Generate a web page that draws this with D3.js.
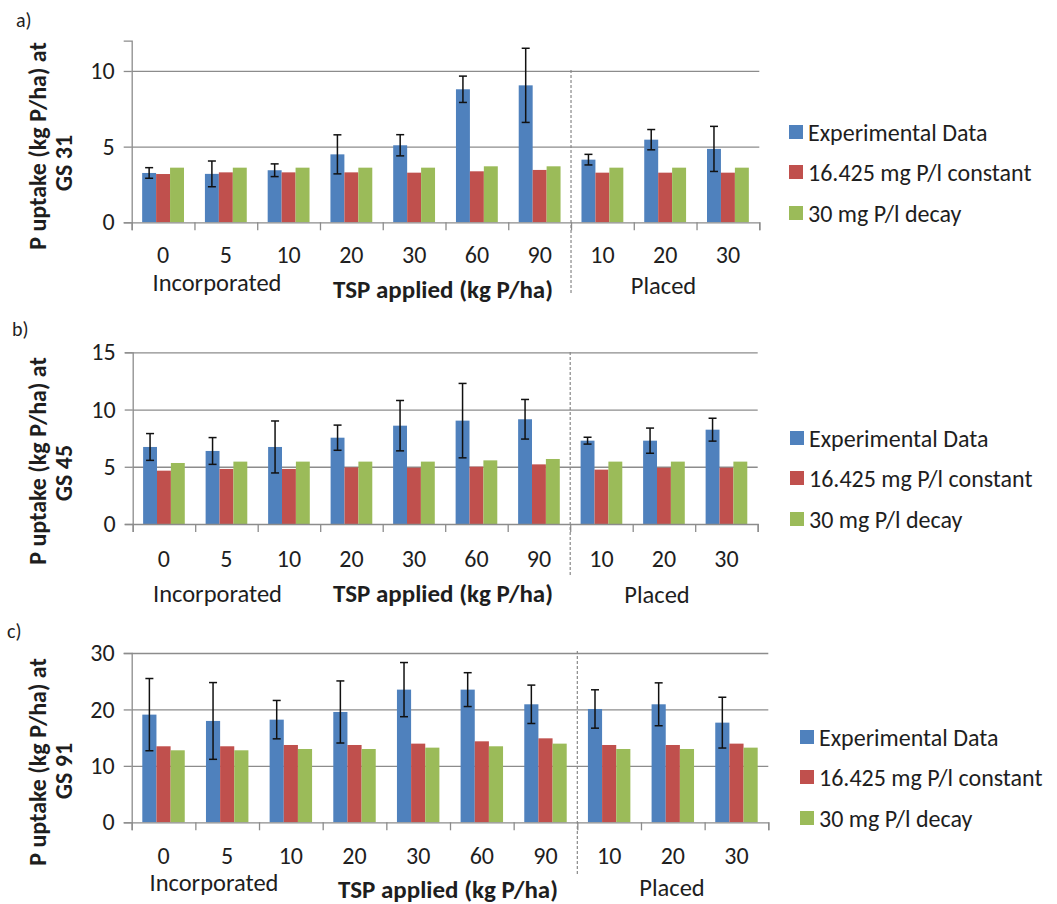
<!DOCTYPE html>
<html>
<head>
<meta charset="utf-8">
<script src="https://cdn.jsdelivr.net/npm/d3@7"></script>
<style>
  body { margin: 0; background: #fff; }
  text { font-family: Carlito, Lato, "Open Sans", sans-serif; fill: #1e1e1e; }
</style>
</head>
<body>
<svg id="chart" width="1057" height="904"></svg>
<script>
// TSP rates; the last three are the placed treatments
const categories = ["0", "5", "10", "20", "30", "60", "90", "10", "20", "30"];
const seriesNames = ["Experimental Data", "16.425 mg P/l constant", "30 mg P/l decay"];

// GS 31
const gs31Experimental = [3.26, 3.20, 3.44, 4.49, 5.09, 8.79, 9.05, 4.14, 5.46, 4.85];
const gs31ExperimentalErr = [0.35, 0.85, 0.42, 1.29, 0.70, 0.87, 2.45, 0.35, 0.67, 1.49];
const gs31Constant = [3.19, 3.30, 3.30, 3.30, 3.28, 3.37, 3.46, 3.28, 3.28, 3.28];
const gs31Decay = [3.61, 3.61, 3.61, 3.61, 3.61, 3.70, 3.70, 3.61, 3.61, 3.61];
const gs31Ticks = [0, 5, 10];

// GS 45
const gs45Experimental = [6.73, 6.38, 6.73, 7.54, 8.59, 9.03, 9.15, 7.28, 7.28, 8.24];
const gs45ExperimentalErr = [1.17, 1.17, 2.27, 1.10, 2.20, 3.25, 1.73, 0.30, 1.10, 1.00];
const gs45Constant = [4.66, 4.81, 4.81, 4.95, 4.92, 5.01, 5.21, 4.75, 4.92, 4.92];
const gs45Decay = [5.33, 5.45, 5.45, 5.45, 5.45, 5.56, 5.68, 5.45, 5.45, 5.45];
const gs45Ticks = [0, 5, 10, 15];

// GS 91
const gs91Experimental = [19.08, 17.96, 18.19, 19.55, 23.51, 23.51, 20.91, 20.08, 20.91, 17.66];
const gs91ExperimentalErr = [6.40, 6.80, 3.40, 5.50, 4.80, 3.00, 3.40, 3.40, 3.80, 4.50];
const gs91Constant = [13.47, 13.47, 13.70, 13.70, 13.94, 14.35, 14.88, 13.70, 13.70, 13.94];
const gs91Decay = [12.76, 12.76, 12.99, 12.99, 13.23, 13.47, 13.94, 12.99, 12.99, 13.23];
const gs91Ticks = [0, 10, 20, 30];

const colors = ["#4f81bd", "#c0504d", "#9bbb59"];
const axisGrey = "#8c8c8c";

const panels = [
  {
    tag: "a)", stage: "GS 31", max: 12, ticks: gs31Ticks,
    series: [gs31Experimental, gs31Constant, gs31Decay], err: gs31ExperimentalErr,
    left: 131.7, right: 759.3, bottom: 222.3, top: 40.7,
    tagPos: [16, 20], titleX: [37, 63], titleY: [146, 163],
    tickLabelDy: 32, groupY: [282.5, 289, 286], groupX: [217, 443, 663.5],
    sepTop: 70, sepBottom: 294,
    legendX: 789, legendY: [132, 172, 213]
  },
  {
    tag: "b)", stage: "GS 45", max: 15, ticks: gs45Ticks,
    series: [gs45Experimental, gs45Constant, gs45Decay], err: gs45ExperimentalErr,
    left: 132.7, right: 757.7, bottom: 524, top: 352.3,
    tagPos: [12, 329], titleX: [37, 63], titleY: [461, 473],
    tickLabelDy: 34.5, groupY: [594, 593, 594.5], groupX: [217.5, 443, 657],
    sepTop: 352, sepBottom: 575,
    legendX: 790, legendY: [438, 478, 519]
  },
  {
    tag: "c)", stage: "GS 91", max: 30, ticks: gs91Ticks,
    series: [gs91Experimental, gs91Constant, gs91Decay], err: gs91ExperimentalErr,
    left: 131.7, right: 768.3, bottom: 822.3, top: 653,
    tagPos: [7, 631], titleX: [37, 63], titleY: [762, 771],
    tickLabelDy: 33.5, groupY: [882.5, 889, 888], groupX: [214, 448, 672],
    sepTop: 651, sepBottom: 875,
    legendX: 800, legendY: [737, 777, 818]
  }
];

const svg = d3.select("#chart");

panels.forEach(p => {
  const g = svg.append("g");
  const y = d3.scaleLinear().domain([0, p.max]).range([p.bottom, p.top]);
  const x = d3.scaleBand().domain(d3.range(categories.length)).range([p.left, p.right]).padding(0);
  const xSub = d3.scaleBand().domain([0, 1, 2]).range([0, x.bandwidth()]).paddingInner(0).paddingOuter(0.75);
  const xEdge = d3.scaleLinear().domain([0, categories.length]).range([p.left, p.right]);

  // gridlines
  g.append("g")
    .attr("transform", `translate(${p.left},0)`)
    .call(d3.axisLeft(y).tickValues(p.ticks.filter(t => t > 0)).tickSize(-(p.right - p.left)).tickFormat(""))
    .call(s => s.select(".domain").remove())
    .call(s => s.selectAll("line").attr("stroke", axisGrey).attr("stroke-width", 1.3));

  // bars
  p.series.forEach((vals, si) => {
    g.append("g").selectAll("rect")
      .data(vals)
      .join("rect")
      .attr("x", (d, i) => x(i) + xSub(si))
      .attr("width", xSub.bandwidth())
      .attr("y", d => y(d))
      .attr("height", d => y(0) - y(d))
      .attr("fill", colors[si]);
  });

  // error bars on the experimental series
  const eg = g.append("g").attr("stroke", "#111").attr("stroke-width", 1.5);
  p.series[0].forEach((v, i) => {
    const cx = x(i) + xSub(0) + xSub.bandwidth() / 2;
    const lo = y(v - p.err[i]), hi = y(v + p.err[i]);
    eg.append("line").attr("x1", cx).attr("x2", cx).attr("y1", lo).attr("y2", hi);
    eg.append("line").attr("x1", cx - 4).attr("x2", cx + 4).attr("y1", lo).attr("y2", lo);
    eg.append("line").attr("x1", cx - 4).attr("x2", cx + 4).attr("y1", hi).attr("y2", hi);
  });

  // y axis
  g.append("g")
    .attr("transform", `translate(${p.left},0)`)
    .call(d3.axisLeft(y).tickValues(p.ticks).tickSize(8).tickPadding(9))
    .call(s => s.select(".domain").attr("stroke", axisGrey).attr("stroke-width", 1.3))
    .call(s => s.selectAll("line").attr("stroke", axisGrey).attr("stroke-width", 1.3))
    .call(s => s.selectAll("text").attr("font-size", 24).attr("font-family", null).attr("fill", "#1e1e1e"));

  // x axis: boundary ticks
  g.append("g")
    .attr("transform", `translate(0,${p.bottom})`)
    .call(d3.axisBottom(xEdge).tickValues(d3.range(categories.length + 1)).tickSize(8).tickFormat(""))
    .call(s => s.select(".domain").attr("stroke", axisGrey).attr("stroke-width", 1.3))
    .call(s => s.selectAll("line").attr("stroke", axisGrey).attr("stroke-width", 1.3));

  // x axis: category labels
  g.append("g")
    .attr("transform", `translate(0,${p.bottom})`)
    .call(d3.axisBottom(x).tickSize(0).tickPadding(0).tickFormat(i => categories[i]))
    .call(s => s.select(".domain").remove())
    .call(s => s.selectAll("text")
      .attr("y", p.tickLabelDy).attr("dy", null)
      .attr("dominant-baseline", "central")
      .attr("font-size", 24).attr("font-family", null).attr("fill", "#1e1e1e"));

  // separator between incorporated and placed treatments
  g.append("line")
    .attr("x1", xEdge(7)).attr("x2", xEdge(7))
    .attr("y1", p.sepTop).attr("y2", p.sepBottom)
    .attr("stroke", "#888").attr("stroke-width", 1.2).attr("stroke-dasharray", "3,2");

  // group labels
  const groups = [
    { t: "Incorporated", bold: false },
    { t: "TSP applied (kg P/ha)", bold: true },
    { t: "Placed", bold: false }
  ];
  groups.forEach((gr, k) => {
    g.append("text")
      .attr("x", p.groupX[k]).attr("y", p.groupY[k])
      .attr("text-anchor", "middle").attr("dominant-baseline", "central")
      .attr("font-size", gr.bold ? 25 : 24.5)
      .attr("font-weight", gr.bold ? 700 : 400)
      .text(gr.t);
  });

  // y title (two lines)
  [["P uptake (kg P/ha) at", 0], [p.stage, 1]].forEach(([t, k]) => {
    g.append("text")
      .attr("transform", `translate(${p.titleX[k]},${p.titleY[k]}) rotate(-90)`)
      .attr("text-anchor", "middle").attr("dominant-baseline", "central")
      .attr("font-size", 24).attr("font-weight", 700)
      .text(t);
  });

  // panel tag
  g.append("text")
    .attr("x", p.tagPos[0]).attr("y", p.tagPos[1])
    .attr("dominant-baseline", "central")
    .attr("font-size", 20)
    .text(p.tag);

  // legend
  seriesNames.forEach((name, si) => {
    const ly = p.legendY[si];
    g.append("rect")
      .attr("x", p.legendX).attr("y", ly - 7)
      .attr("width", 14).attr("height", 14)
      .attr("fill", colors[si]);
    g.append("text")
      .attr("x", p.legendX + 19).attr("y", ly)
      .attr("dominant-baseline", "central")
      .attr("font-size", 24)
      .text(name);
  });
});
</script>
</body>
</html>
